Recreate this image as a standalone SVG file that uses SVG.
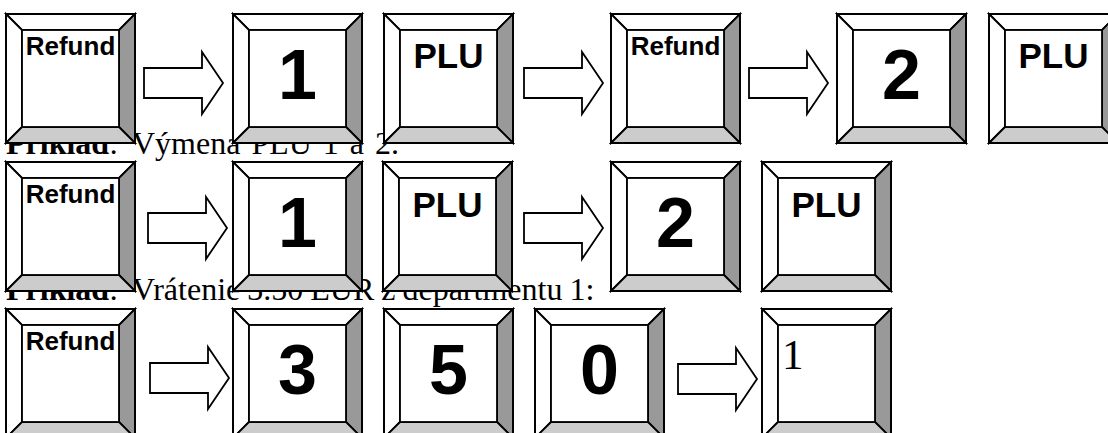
<svg xmlns="http://www.w3.org/2000/svg" xmlns:xlink="http://www.w3.org/1999/xlink" width="1108" height="433" viewBox="0 0 1108 433">
<style>
.cap{font-family:"Liberation Serif","Times New Roman",serif;font-size:32px;fill:#000}
.b{font-weight:bold}
.lbl{font-family:"Liberation Sans",Arial,sans-serif;font-weight:bold;fill:#000;text-anchor:middle}
.rf{font-size:26px}
.plu{font-size:35px}
.dg{font-size:70px}
.ser{font-family:"Liberation Serif","Times New Roman",serif;font-size:43px;fill:#000}
.ln{stroke:#000;stroke-width:1.8;stroke-linejoin:miter}
</style>
<defs>
<g id="key">
<polygon class="ln" points="0,0 129,0 113,16 16,16" fill="#fff"/>
<polygon class="ln" points="0,0 16,16 16,113 0,129" fill="#fff"/>
<polygon class="ln" points="129,0 129,129 113,113 113,16" fill="#999"/>
<polygon class="ln" points="0,129 16,113 113,113 129,129" fill="#ccc"/>
<rect class="ln" x="16" y="16" width="97" height="97" fill="#fff"/>
<rect class="ln" x="0" y="0" width="129" height="129" fill="none"/>
</g>
<path id="arr" class="ln" fill="#fff" d="M0,-15 H58 V-31 L79,0 L58,31 V15 H0 Z"/>
</defs>

<g id="captions">
<text class="cap" x="6" y="154"><tspan class="b">Príklad</tspan>: <tspan x="132" word-spacing="3">Výmena PLU 1 a 2.</tspan></text>
<text class="cap" x="6" y="300"><tspan class="b">Príklad</tspan>: <tspan x="132" word-spacing="-1">Vrátenie 3.50 EUR z departmentu 1:</tspan></text>
</g>

<g id="connectors">
<use xlink:href="#arr" x="144" y="83"/>
<use xlink:href="#arr" x="524" y="83"/>
<use xlink:href="#arr" x="749" y="83"/>
<use xlink:href="#arr" x="148" y="228"/>
<use xlink:href="#arr" x="524" y="228"/>
<use xlink:href="#arr" x="150" y="378"/>
<use xlink:href="#arr" x="678" y="379"/>
</g>

<g id="r1k1"><use xlink:href="#key" x="6" y="14"/><text class="lbl rf" x="70.5" y="55">Refund</text></g>
<g id="r1k2"><use xlink:href="#key" x="233" y="14"/><text class="lbl dg" x="297.5" y="99">1</text></g>
<g id="r1k3"><use xlink:href="#key" x="384" y="14"/><text class="lbl plu" x="448.5" y="68">PLU</text></g>
<g id="r1k4"><use xlink:href="#key" x="611" y="14"/><text class="lbl rf" x="675.5" y="55">Refund</text></g>
<g id="r1k5"><use xlink:href="#key" x="837" y="14"/><text class="lbl dg" x="901.5" y="99">2</text></g>
<g id="r1k6"><use xlink:href="#key" x="989" y="14"/><text class="lbl plu" x="1053.5" y="68">PLU</text></g>

<g id="r2k1"><use xlink:href="#key" x="6" y="162"/><text class="lbl rf" x="70.5" y="203">Refund</text></g>
<g id="r2k2"><use xlink:href="#key" x="233" y="162"/><text class="lbl dg" x="297.5" y="247">1</text></g>
<g id="r2k3"><use xlink:href="#key" x="383" y="162"/><text class="lbl plu" x="447.5" y="217">PLU</text></g>
<g id="r2k4"><use xlink:href="#key" x="611" y="162"/><text class="lbl dg" x="675.5" y="247">2</text></g>
<g id="r2k5"><use xlink:href="#key" x="762" y="162"/><text class="lbl plu" x="826.5" y="217">PLU</text></g>

<g id="r3k1"><use xlink:href="#key" x="6" y="309"/><text class="lbl rf" x="70.5" y="350">Refund</text></g>
<g id="r3k2"><use xlink:href="#key" x="233" y="309"/><text class="lbl dg" x="297.5" y="394">3</text></g>
<g id="r3k3"><use xlink:href="#key" x="384" y="309"/><text class="lbl dg" x="448.5" y="394">5</text></g>
<g id="r3k4"><use xlink:href="#key" x="535" y="309"/><text class="lbl dg" x="599.5" y="394">0</text></g>
<g id="r3k5"><use xlink:href="#key" x="762" y="309"/><text class="ser" x="782" y="369">1</text></g>
</svg>
